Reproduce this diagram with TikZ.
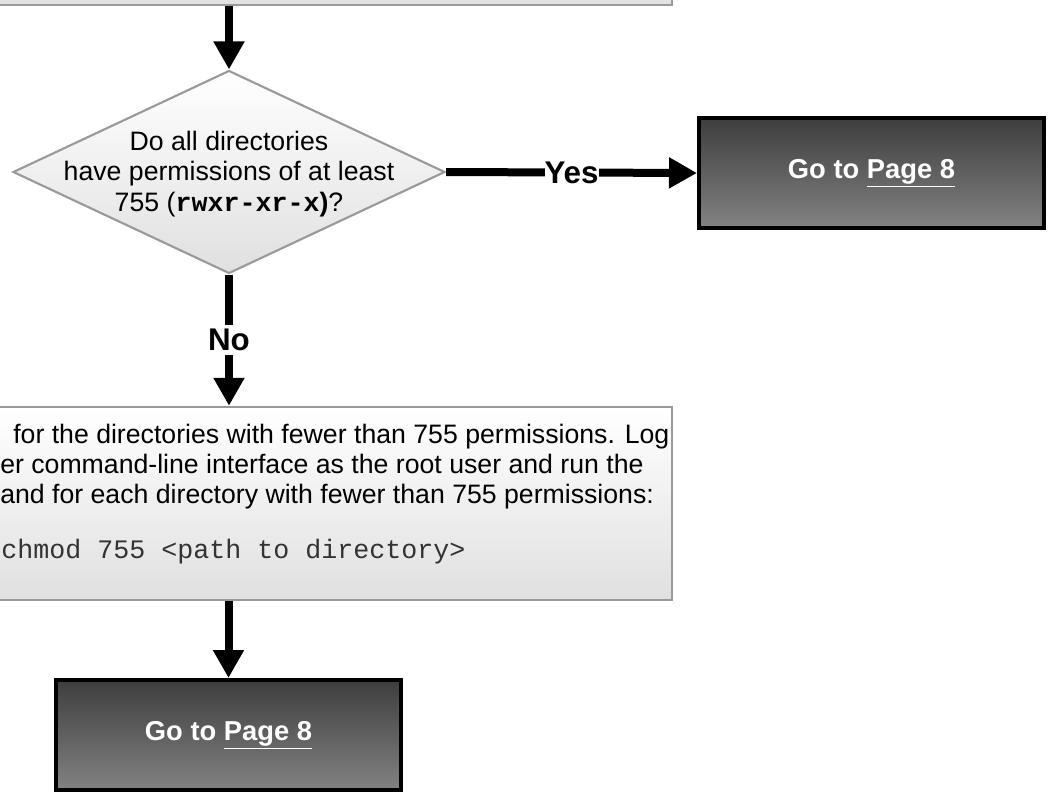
\documentclass[tikz,border=0pt]{standalone}
\usepackage{fontspec}
\setmainfont{Liberation Sans}
\setmonofont{Liberation Mono}
\usetikzlibrary{arrows.meta,shapes.geometric}

\definecolor{edgegray}{HTML}{9A9A9A}
\definecolor{paleshade}{HTML}{E0E0E0}
\definecolor{godark}{HTML}{3E3E3E}
\definecolor{golight}{HTML}{828282}
\definecolor{codegray}{HTML}{333333}

\begin{document}
\begin{tikzpicture}[x=0.75pt,y=-0.75pt,
  flowarrow/.style={line width=6pt,-{Triangle[length=21pt,width=22pt]}},
  notebox/.style={rectangle,draw=edgegray,line width=1.8pt,top color=white,bottom color=paleshade,inner sep=0pt},
  question/.style={diamond,draw=edgegray,line width=1.6pt,top color=white,bottom color=paleshade,inner sep=0pt},
  gobox/.style={rectangle,draw=black,line width=3pt,top color=godark,bottom color=golight,
    text=white,font=\bfseries\fontsize{20.5}{24}\selectfont,
    minimum width=258.75pt,minimum height=82.5pt,inner sep=0pt},
  bodytext/.style={font=\fontsize{20}{24}\selectfont,inner sep=0pt,anchor=base west},
  branchlabel/.style={font=\bfseries\fontsize{23.5}{26}\selectfont,fill=white,inner xsep=0pt,inner ysep=3pt},
]
\useasboundingbox (0,0) rectangle (1054,793);
\clip (0,0) rectangle (1054,793);

% step above the decision (only its lower edge is in view)
\node[notebox,minimum width=526.5pt,minimum height=48.75pt] (topbox) at (321,-27.5) {};

% decision
\node[question,minimum width=324pt,minimum height=152.25pt] (dec) at (229,172) {};
\node[align=center,font=\fontsize{20}{23}\selectfont] (dectext) at (229,174)
  {Do all directories\\have permissions of at least\\755 (\textbf{\ttfamily rwxr-xr-x}\textbf{)}?};

% outcome boxes
\node[gobox] (goyes) at (871.5,173) {Go to \underline{Page 8}};
\node[gobox] (gono) at (228.5,735) {Go to \underline{Page 8}};

% corrective step
\node[notebox,minimum width=526.5pt,minimum height=144.75pt] (fixbox) at (321,503.5) {};
\node[bodytext] (fixa) at (13,443) {for the directories with fewer than 755 permissions. Log};
\node[bodytext] (fixb) at (0,473) {er command-line interface as the root user and run the};
\node[bodytext] (fixc) at (0,503) {and for each directory with fewer than 755 permissions:};
\node[bodytext,font=\ttfamily\fontsize{20}{24}\selectfont,text=codegray] (fixcmd) at (1,558) {chmod 755 <path to directory>};

% connectors
\draw[flowarrow] (topbox.south -| dec.north) -- (dec.north);
\draw[flowarrow] (dec.east) -- node[branchlabel,pos=0.5] {Yes} (goyes.west);
\draw[flowarrow] (dec.south) -- node[branchlabel,pos=0.5] {No} (fixbox.north -| dec.south);
\draw[flowarrow] (fixbox.south -| gono.north) -- (gono.north);
\end{tikzpicture}
\end{document}
